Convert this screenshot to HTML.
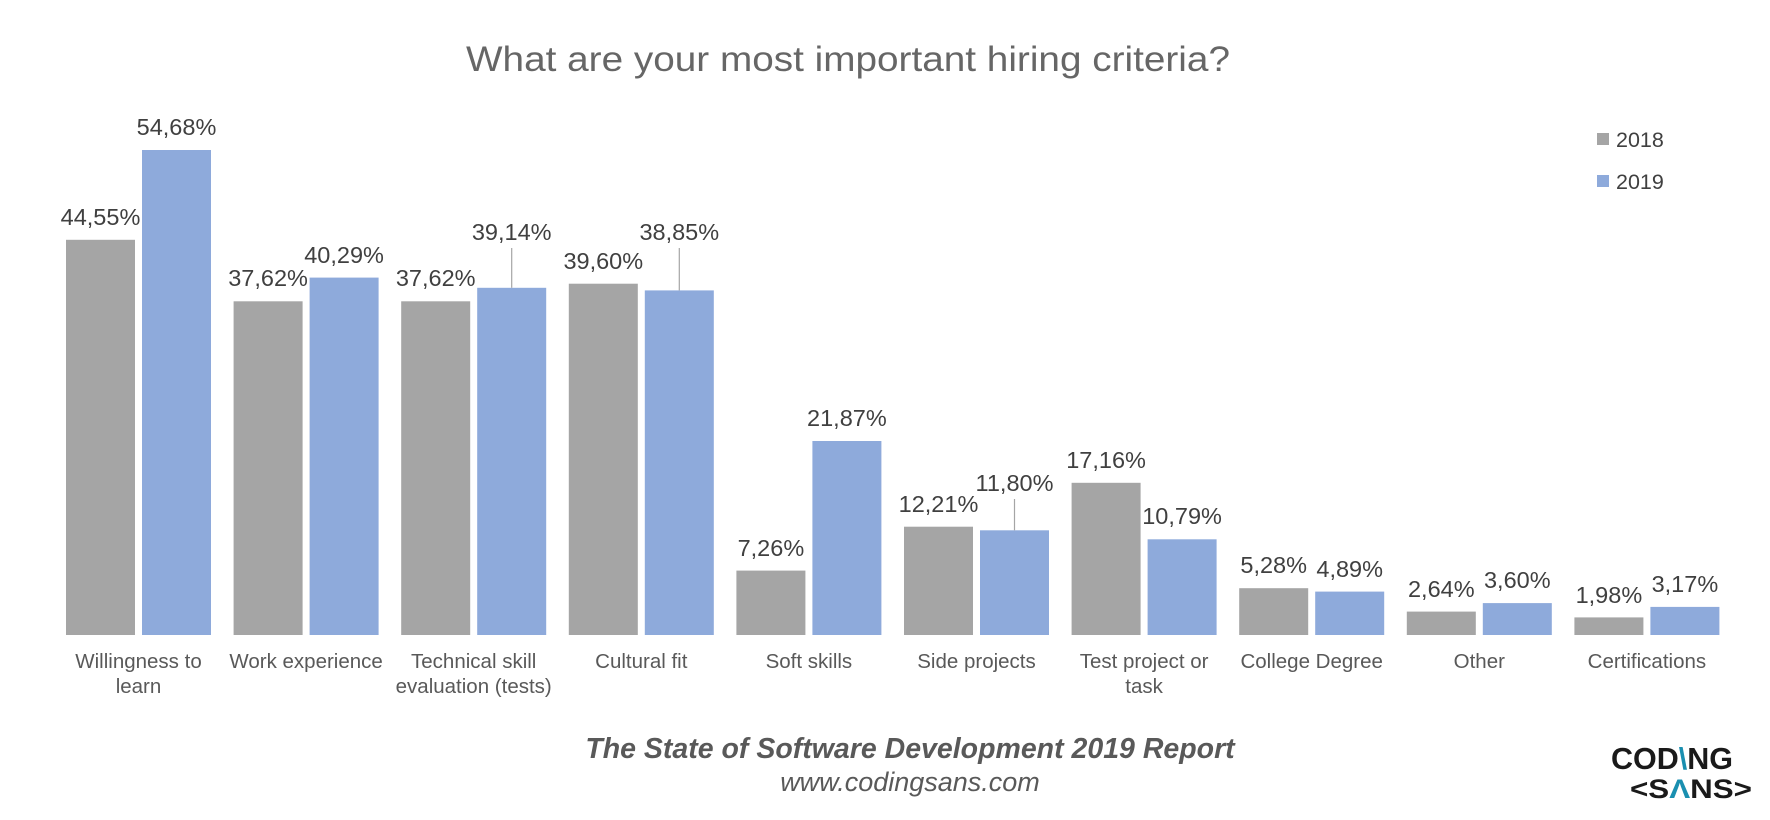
<!DOCTYPE html>
<html><head><meta charset="utf-8"><style>
html,body{margin:0;padding:0;background:#fff;}
svg{display:block;font-family:"Liberation Sans",sans-serif;}
.v{font-size:23.5px;fill:#404040;text-anchor:middle;}
.c{font-size:20.5px;fill:#595959;text-anchor:middle;}
.g{fill:#a5a5a5}.b{fill:#8eaadb}
</style></head><body>
<svg width="1770" height="820" viewBox="0 0 1770 820">
<text x="848" y="71" font-size="35" fill="#666" text-anchor="middle" textLength="764" lengthAdjust="spacingAndGlyphs">What are your most important hiring criteria?</text>
<!-- legend -->
<rect x="1597" y="133" width="12" height="12" class="g"/><text x="1616" y="147" font-size="21.5" fill="#404040">2018</text>
<rect x="1597" y="175" width="12" height="12" class="b"/><text x="1616" y="189" font-size="21.5" fill="#404040">2019</text>
<!-- gray bars -->
<rect class="g" x="66" y="239.8" width="69" height="395.2"/>
<rect class="g" x="233.6" y="301.3" width="69" height="333.7"/>
<rect class="g" x="401.2" y="301.3" width="69" height="333.7"/>
<rect class="g" x="568.8" y="283.7" width="69" height="351.3"/>
<rect class="g" x="736.4" y="570.6" width="69" height="64.4"/>
<rect class="g" x="904" y="526.7" width="69" height="108.3"/>
<rect class="g" x="1071.6" y="482.8" width="69" height="152.2"/>
<rect class="g" x="1239.2" y="588.2" width="69" height="46.8"/>
<rect class="g" x="1406.8" y="611.6" width="69" height="23.4"/>
<rect class="g" x="1574.4" y="617.4" width="69" height="17.6"/>
<!-- blue bars -->
<rect class="b" x="142" y="150" width="69" height="485"/>
<rect class="b" x="309.6" y="277.6" width="69" height="357.4"/>
<rect class="b" x="477.2" y="287.8" width="69" height="347.2"/>
<rect class="b" x="644.8" y="290.4" width="69" height="344.6"/>
<rect class="b" x="812.4" y="441" width="69" height="194"/>
<rect class="b" x="980" y="530.3" width="69" height="104.7"/>
<rect class="b" x="1147.6" y="539.3" width="69" height="95.7"/>
<rect class="b" x="1315.2" y="591.6" width="69" height="43.4"/>
<rect class="b" x="1482.8" y="603.1" width="69" height="31.9"/>
<rect class="b" x="1650.4" y="606.9" width="69" height="28.1"/>
<!-- leader lines -->
<g stroke="#a5a5a5" stroke-width="1.2">
<line x1="511.7" y1="248" x2="511.7" y2="287.8"/>
<line x1="679.3" y1="248" x2="679.3" y2="290.4"/>
<line x1="1014.5" y1="499" x2="1014.5" y2="530.3"/>
</g>
<!-- gray labels -->
<text class="v" x="100.5" y="225">44,55%</text>
<text class="v" x="268.1" y="286">37,62%</text>
<text class="v" x="435.7" y="286">37,62%</text>
<text class="v" x="603.3" y="269">39,60%</text>
<text class="v" x="770.9" y="556">7,26%</text>
<text class="v" x="938.5" y="512">12,21%</text>
<text class="v" x="1106.1" y="468">17,16%</text>
<text class="v" x="1273.7" y="573">5,28%</text>
<text class="v" x="1441.3" y="597">2,64%</text>
<text class="v" x="1608.9" y="603">1,98%</text>
<!-- blue labels -->
<text class="v" x="176.5" y="135">54,68%</text>
<text class="v" x="344.1" y="263">40,29%</text>
<text class="v" x="511.7" y="240">39,14%</text>
<text class="v" x="679.3" y="240">38,85%</text>
<text class="v" x="846.9" y="426">21,87%</text>
<text class="v" x="1014.5" y="491">11,80%</text>
<text class="v" x="1182.1" y="524">10,79%</text>
<text class="v" x="1349.7" y="577">4,89%</text>
<text class="v" x="1517.3" y="588">3,60%</text>
<text class="v" x="1684.9" y="592">3,17%</text>
<!-- categories -->
<text class="c" x="138.5" y="668">Willingness to</text><text class="c" x="138.5" y="693">learn</text>
<text class="c" x="306.1" y="668">Work experience</text>
<text class="c" x="473.7" y="668">Technical skill</text><text class="c" x="473.7" y="693">evaluation (tests)</text>
<text class="c" x="641.3" y="668">Cultural fit</text>
<text class="c" x="808.9" y="668">Soft skills</text>
<text class="c" x="976.5" y="668">Side projects</text>
<text class="c" x="1144.1" y="668">Test project or</text><text class="c" x="1144.1" y="693">task</text>
<text class="c" x="1311.7" y="668">College Degree</text>
<text class="c" x="1479.3" y="668">Other</text>
<text class="c" x="1646.9" y="668">Certifications</text>
<!-- footer -->
<text x="910" y="758" font-size="28.5" font-weight="bold" font-style="italic" fill="#595959" text-anchor="middle">The State of Software Development 2019 Report</text>
<text x="910" y="791" font-size="27" font-style="italic" fill="#595959" text-anchor="middle">www.codingsans.com</text>
<!-- logo -->
<text x="1611" y="769" font-size="31" font-weight="bold" fill="#1a1a1a" textLength="122" lengthAdjust="spacingAndGlyphs">COD<tspan fill="#1a8fb0">\</tspan>NG</text>
<text x="1630" y="798" font-size="27" font-weight="bold" fill="#1a1a1a" textLength="122" lengthAdjust="spacingAndGlyphs">&lt;S<tspan fill="#1a8fb0">Λ</tspan>NS&gt;</text>
</svg>
</body></html>
